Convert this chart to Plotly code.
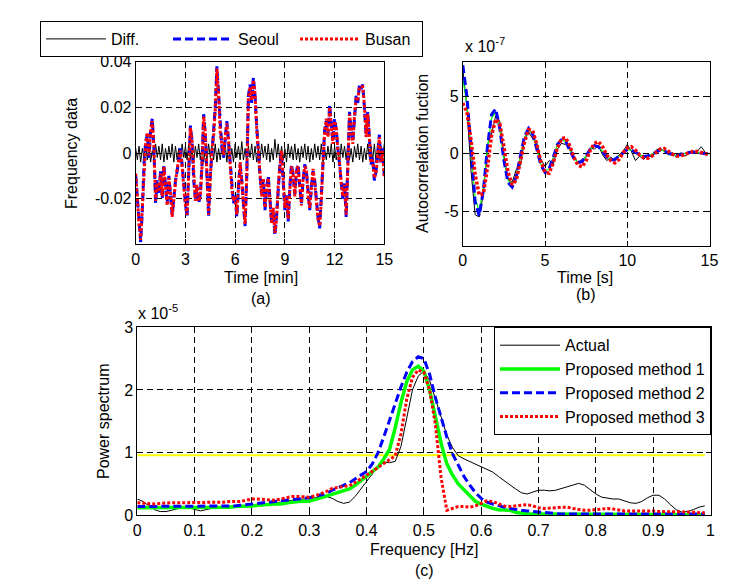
import numpy as np
import plotly.graph_objects as go

# ---------------- (a) frequency data, values in units of 1e-3 Hz ----------------
seoul_mhz = [-10, -20, -32, -39, -25, -5, 5, 8, -2, 10, 15, 2, -22, -12, -18, -8, -20, -5, -15, -22,
             -10, -18, -27, -20, -12, -8, -3, 2, -5, -15, -22, -28, -5, 12, 5, -12, -20, -15, -22, -18,
             -5, 17, 8, -10, -28, -10, 0, 8, 20, 38, 25, 10, 2, -2, 8, 14, 5, -5, -15, -22,
             -18, -28, -15, -5, -12, -22, -32, -10, 25, 30, 22, 33, 25, 12, 0, -10, -18, -12, -25, -15,
             -10, -22, -30, -25, -36, -28, -15, -5, 0, -12, -25, -18, -30, -15, -5, -10, -18, -8, -5, -15,
             -22, -12, -5, -8, -18, -25, -15, -8, -12, -22, -28, -33, -20, -5, 10, 14, 8, 21, 12, 5,
             15, 10, 2, -5, -12, -20, -13, -28, -5, 18, 10, 5, 15, 25, 22, 30, 28, 30, 20, 8,
             18, 5, -5, -2, -12, -8, 0, 8, -5, 2, -10]
busan_mhz = [-9, -21, -31, -38, -24, -6, 4, 9, -1, 9, 14, 3, -21, -13, -17, -9, -19, -6, -14, -23,
             -11, -17, -28, -19, -13, -7, -2, 1, -6, -14, -23, -27, -6, 11, 6, -11, -21, -14, -21, -19,
             -6, 16, 9, -9, -27, -11, 1, 7, 19, 37, 26, 9, 3, -1, 7, 13, 6, -4, -16, -21,
             -19, -27, -16, -4, -13, -21, -31, -11, 24, 29, 23, 32, 26, 11, 1, -9, -19, -11, -24, -16,
             -11, -21, -31, -24, -35, -29, -14, -6, 1, -11, -24, -19, -29, -16, -6, -9, -19, -7, -6, -14,
             -23, -11, -6, -7, -19, -24, -16, -7, -13, -21, -29, -32, -21, -4, 9, 15, 7, 20, 13, 4,
             14, 11, 1, -4, -13, -19, -14, -27, -6, 17, 11, 4, 16, 24, 23, 29, 29, 29, 21, 7,
             17, 6, -4, -3, -11, -9, 1, 7, -4, 1, -11]
diff_mhz = [2, -3, 3, -4, 2, -2, 4, -3, 3, -4, 1, -3, 4, -2, 3, -3, 4, -4, 2, -3,
            3, -2, 4, -4, 3, -3, 2, -4, 4, -2, 3, -3, 4, -3, 2, -4, 3, -2, 4, -3,
            3, -4, 2, -3, 4, -2, 3, -3, 4, -4, 2, -3, 3, -2, 4, -4, 3, -3, 2, -4,
            4, -2, 3, -3, 5, -3, 2, -4, 3, -2, 4, -3, 3, -4, 2, -3, 4, -2, 3, -3,
            4, -4, 2, -3, 6, -2, 4, -4, 3, -3, 2, -4, 4, -2, 3, -3, 4, -3, 2, -4,
            3, -2, 4, -3, 3, -4, 2, -3, 4, -2, 3, -3, 4, -4, 2, -3, 3, -2, 4, -4,
            3, -3, 2, -4, 4, -2, 3, -3, 4, -3, 2, -4, 3, -2, 4, -3, 3, -4, 2, -3,
            4, -2, 3, -3, 4, -4, 2, -3, 3, -2, 4]

# ---------------- (b) autocorrelation, units of 1e-7, lag step 0.25 s ----------------
acf_actual = [7.4, 4.0, -1.5, -5.3, -5.5, -3.5, 0.8, 1.7, 3.3, 2.8, -0.2, -2.2, -2.5, -1.4, -1.0, 1.2,
              1.9, 1.3, 0.9, -0.5, -1.1, -0.6, -0.9, 0.4, 0.9, 0.8, 0.6, -0.2, -0.8, -0.5, -0.3, 0.5,
              0.4, 0.7, -0.1, -0.6, -0.3, -0.6, -0.1, 0.2, 0.8, 0.2, -0.6, -0.2, -0.5, -0.1, -0.3, 0.3,
              0.5, 0.2, -0.1, 0.1, -0.3, 0.1, -0.2, 0.0, 0.1, 0.2, 0.6, 0.1, 0.0]
acf_m1 = [6.5, 4.3, 0.3, -3.9, -5.0, -3.0, 0.5, 3.1, 3.6, 2.1, -0.5, -2.3, -2.7, -1.9, -0.2, 1.4,
          2.1, 1.7, 0.4, -0.9, -1.5, -1.3, -0.3, 0.8, 1.2, 1.1, 0.35, -0.4, -0.75, -0.7, -0.2, 0.4,
          0.7, 0.65, 0.2, -0.3, -0.55, -0.5, -0.2, 0.15, 0.35, 0.3, 0.1, -0.1, -0.25, -0.2, -0.05, 0.15,
          0.3, 0.25, 0.05, -0.1, -0.15, -0.1, 0.0, 0.1, 0.15, 0.1, 0.05, 0.0, -0.05]
acf_m2 = [7.7, 5.0, 0.5, -4.2, -5.4, -3.2, 0.6, 3.4, 3.9, 2.2, -0.6, -2.5, -2.9, -2.0, -0.2, 1.5,
          2.2, 1.7, 0.4, -1.0, -1.6, -1.3, -0.3, 0.8, 1.2, 1.1, 0.3, -0.4, -0.75, -0.7, -0.2, 0.4,
          0.7, 0.6, 0.2, -0.3, -0.55, -0.5, -0.2, 0.1, 0.35, 0.3, 0.1, -0.1, -0.25, -0.2, -0.05, 0.15,
          0.3, 0.25, 0.05, -0.1, -0.15, -0.1, 0.0, 0.1, 0.15, 0.1, 0.05, 0.0, -0.05]
acf_m3 = [4.4, 3.6, 1.2, -1.8, -3.6, -3.5, -1.2, 1.6, 3.0, 2.6, 0.6, -1.6, -2.7, -2.3, -0.7, 1.0,
          2.1, 2.0, 0.8, -0.7, -1.6, -1.7, -0.8, 0.5, 1.3, 1.4, 0.7, -0.3, -1.0, -1.15, -0.6, 0.3,
          0.9, 1.05, 0.6, -0.1, -0.6, -0.8, -0.5, 0.1, 0.5, 0.6, 0.3, -0.1, -0.35, -0.4, -0.2, 0.15,
          0.4, 0.45, 0.2, -0.05, -0.2, -0.2, -0.05, 0.1, 0.2, 0.2, 0.1, 0.0, -0.1]

# ---------------- (c) power spectrum, units of 1e-5, f = 0.00 .. 0.99 Hz ----------------
ps_actual = [0.26, 0.22, 0.15, 0.09, 0.06, 0.06, 0.08, 0.11, 0.13, 0.12,
             0.09, 0.07, 0.09, 0.11, 0.13, 0.13, 0.13, 0.14, 0.14, 0.15,
             0.16, 0.16, 0.17, 0.18, 0.19, 0.20, 0.22, 0.24, 0.25, 0.26,
             0.27, 0.28, 0.30, 0.30, 0.27, 0.22, 0.19, 0.21, 0.30, 0.42,
             0.55, 0.66, 0.76, 0.85, 0.84, 0.86, 1.10, 1.55, 2.00, 2.22,
             2.30, 2.15, 1.85, 1.55, 1.28, 1.08, 0.95, 0.90, 0.86, 0.82,
             0.78, 0.74, 0.69, 0.62, 0.55, 0.48, 0.42, 0.36, 0.34, 0.37,
             0.40, 0.40, 0.39, 0.40, 0.43, 0.46, 0.49, 0.51, 0.48, 0.41,
             0.34, 0.29, 0.27, 0.26, 0.26, 0.23, 0.20, 0.19, 0.22, 0.28,
             0.32, 0.32, 0.26, 0.17, 0.09, 0.05, 0.06, 0.09, 0.13, 0.15]
ps_m1 = [0.12, 0.12, 0.12, 0.12, 0.12, 0.12, 0.12, 0.12, 0.12, 0.12,
         0.12, 0.12, 0.12, 0.12, 0.13, 0.13, 0.13, 0.14, 0.14, 0.15,
         0.15, 0.16, 0.17, 0.17, 0.18, 0.18, 0.20, 0.21, 0.22, 0.22,
         0.23, 0.25, 0.28, 0.31, 0.34, 0.37, 0.39, 0.42, 0.48, 0.55,
         0.62, 0.70, 0.77, 0.90, 1.05, 1.40, 1.80, 2.13, 2.32, 2.38,
         2.30, 2.00, 1.60, 1.15, 0.82, 0.64, 0.50, 0.40, 0.30, 0.22,
         0.18, 0.14, 0.11, 0.09, 0.09, 0.08, 0.05, 0.03, 0.02, 0.02,
         0.02, 0.01, 0.01, 0.01, 0.01, 0.01, 0.01, 0.01, 0.01, 0.01,
         0.01, 0.01, 0.01, 0.01, 0.01, 0.01, 0.01, 0.01, 0.01, 0.01,
         0.01, 0.01, 0.01, 0.01, 0.01, 0.01, 0.01, 0.01, 0.01, 0.01]
ps_m2 = [0.14, 0.14, 0.14, 0.14, 0.14, 0.14, 0.14, 0.14, 0.14, 0.14,
         0.14, 0.14, 0.14, 0.14, 0.15, 0.15, 0.15, 0.15, 0.16, 0.17,
         0.18, 0.18, 0.19, 0.20, 0.21, 0.22, 0.23, 0.25, 0.26, 0.27,
         0.28, 0.30, 0.32, 0.35, 0.40, 0.44, 0.47, 0.52, 0.58, 0.64,
         0.70, 0.82, 1.00, 1.25, 1.50, 1.78, 2.05, 2.28, 2.45, 2.53,
         2.50, 2.25, 1.88, 1.55, 1.25, 0.98, 0.80, 0.62, 0.48, 0.36,
         0.27, 0.21, 0.18, 0.15, 0.13, 0.11, 0.09, 0.08, 0.07, 0.06,
         0.05, 0.04, 0.03, 0.03, 0.02, 0.02, 0.02, 0.02, 0.02, 0.02,
         0.02, 0.02, 0.02, 0.02, 0.02, 0.02, 0.02, 0.02, 0.02, 0.02,
         0.02, 0.02, 0.02, 0.02, 0.02, 0.02, 0.02, 0.02, 0.02, 0.02]
ps_m3 = [0.20, 0.19, 0.18, 0.18, 0.19, 0.20, 0.20, 0.20, 0.20, 0.20,
         0.20, 0.20, 0.21, 0.21, 0.21, 0.21, 0.22, 0.22, 0.22, 0.24,
         0.26, 0.26, 0.25, 0.24, 0.24, 0.26, 0.28, 0.30, 0.30, 0.29,
         0.29, 0.31, 0.34, 0.38, 0.43, 0.45, 0.46, 0.47, 0.52, 0.58,
         0.64, 0.70, 0.76, 0.82, 0.88, 0.95, 1.30, 1.85, 2.20, 2.32,
         2.28, 2.00, 1.45, 0.60, 0.08, 0.11, 0.14, 0.14, 0.13, 0.15,
         0.19, 0.23, 0.22, 0.18, 0.15, 0.14, 0.15, 0.17, 0.17, 0.15,
         0.12, 0.11, 0.11, 0.12, 0.13, 0.13, 0.11, 0.09, 0.08, 0.08,
         0.09, 0.11, 0.11, 0.10, 0.08, 0.07, 0.07, 0.07, 0.08, 0.08,
         0.07, 0.06, 0.06, 0.05, 0.05, 0.06, 0.06, 0.05, 0.04, 0.04]
ref_level_x = [0.0, 0.99]
ref_level_y = [0.96, 0.96]

# tick labels
a_xticks = [0, 3, 6, 9, 12, 15]
a_yticks = [-0.02, 0, 0.02, 0.04]
a_yticktext = ["-0.02", "0", "0.02", "0.04"]
b_xticks = [0, 5, 10, 15]
b_yticks = [-5, 0, 5]
b_yticktext = ["-5", "0", "5"]
c_xticks = [0, 0.1, 0.2, 0.3, 0.4, 0.5, 0.6, 0.7, 0.8, 0.9, 1]
c_xticktext = ["0", "0.1", "0.2", "0.3", "0.4", "0.5", "0.6", "0.7", "0.8", "0.9", "1"]
c_yticks = [0, 1, 2, 3]

# ---------------- derived axes ----------------
seoul = np.array(seoul_mhz) * 1e-3
busan = np.array(busan_mhz) * 1e-3
diff = np.array(diff_mhz) * 1e-3
t_seoul = np.linspace(0, 15, len(seoul))
t_busan = np.linspace(0, 15, len(busan))
t_diff = np.linspace(0, 15, len(diff))
lag = np.arange(len(acf_m2)) * 0.25
freq = np.arange(len(ps_actual)) * 0.01

W, H = 754, 585
FONT = "Liberation Sans, Arial, sans-serif"
FS = 16

def px(x):
    return x / W

def py(y):
    return 1 - y / H

BLUE = "#0000ff"
RED = "#ff0000"
GREEN = "#00ff00"
DASH = "8px,4px"
DOT = "3px,2px"
GRID = "6px,4px"

fig = go.Figure()

# (a)
fig.add_trace(go.Scatter(x=t_diff, y=diff, mode="lines", name="Diff.",
                         line=dict(color="black", width=1), xaxis="x", yaxis="y", legend="legend"))
fig.add_trace(go.Scatter(x=t_seoul, y=seoul, mode="lines", name="Seoul",
                         line=dict(color=BLUE, width=3, dash=DASH), xaxis="x", yaxis="y", legend="legend"))
fig.add_trace(go.Scatter(x=t_busan, y=busan, mode="lines", name="Busan",
                         line=dict(color=RED, width=3, dash=DOT), xaxis="x", yaxis="y", legend="legend"))

# (b)
fig.add_trace(go.Scatter(x=lag, y=acf_actual, mode="lines", showlegend=False,
                         line=dict(color="black", width=1), xaxis="x2", yaxis="y2"))
fig.add_trace(go.Scatter(x=lag, y=acf_m1, mode="lines", showlegend=False,
                         line=dict(color=GREEN, width=1.2), xaxis="x2", yaxis="y2"))
fig.add_trace(go.Scatter(x=lag, y=acf_m2, mode="lines", showlegend=False,
                         line=dict(color=BLUE, width=3, dash=DASH), xaxis="x2", yaxis="y2"))
fig.add_trace(go.Scatter(x=lag, y=acf_m3, mode="lines", showlegend=False,
                         line=dict(color=RED, width=3.5, dash=DOT), xaxis="x2", yaxis="y2"))

# (c)
fig.add_trace(go.Scatter(x=ref_level_x, y=ref_level_y, mode="lines", showlegend=False,
                         line=dict(color="#ffff00", width=2), xaxis="x3", yaxis="y3"))
fig.add_trace(go.Scatter(x=freq, y=ps_actual, mode="lines", name="Actual",
                         line=dict(color="black", width=1), xaxis="x3", yaxis="y3", legend="legend2"))
fig.add_trace(go.Scatter(x=freq, y=ps_m1, mode="lines", name="Proposed method 1",
                         line=dict(color=GREEN, width=3.5), xaxis="x3", yaxis="y3", legend="legend2"))
fig.add_trace(go.Scatter(x=freq, y=ps_m2, mode="lines", name="Proposed method 2",
                         line=dict(color=BLUE, width=3, dash=DASH), xaxis="x3", yaxis="y3", legend="legend2"))
fig.add_trace(go.Scatter(x=freq, y=ps_m3, mode="lines", name="Proposed method 3",
                         line=dict(color=RED, width=3, dash=DOT), xaxis="x3", yaxis="y3", legend="legend2"))

def ax(domain, rng, tickvals, ticktext=None, anchor=None):
    d = dict(domain=domain, range=rng, tickvals=tickvals, showline=True, linecolor="black",
             linewidth=1, mirror="ticks", ticks="inside", ticklen=5, tickcolor="black",
             showgrid=True, gridcolor="black", gridwidth=1, griddash=GRID, zeroline=False,
             tickfont=dict(family=FONT, size=FS, color="black"), anchor=anchor, fixedrange=True)
    if ticktext is not None:
        d["ticktext"] = ticktext
    return d

fig.update_layout(
    width=W, height=H, margin=dict(l=0, r=0, t=0, b=0, autoexpand=False),
    paper_bgcolor="white", plot_bgcolor="white",
    font=dict(family=FONT, size=FS, color="black"),
    xaxis=ax([px(135.7), px(384.3)], [0, 15], a_xticks, anchor="y"),
    yaxis=ax([py(244.3), py(61.7)], [-0.04, 0.04], a_yticks, a_yticktext, anchor="x"),
    xaxis2=ax([px(462.8), px(709.5)], [0, 15], b_xticks, anchor="y2"),
    yaxis2=ax([py(245.7), py(61.7)], [-8, 8], b_yticks, b_yticktext, anchor="x2"),
    xaxis3=ax([px(137.3), px(710.5)], [0, 1], c_xticks, c_xticktext, anchor="y3"),
    yaxis3=ax([py(515.3), py(327.3)], [0, 3], c_yticks, anchor="x3"),
    legend=dict(orientation="h", x=px(40), y=py(21), xanchor="left", yanchor="top",
                bordercolor="black", borderwidth=1, bgcolor="white",
                font=dict(family=FONT, size=FS), entrywidth=52, entrywidthmode="pixels",
                itemwidth=60),
    legend2=dict(x=px(711), y=py(327.3), xanchor="right", yanchor="top",
                 bordercolor="black", borderwidth=1, bgcolor="white",
                 font=dict(family=FONT, size=FS), itemwidth=60, tracegroupgap=0),
)

def note(x, y, text, angle=0, size=FS):
    fig.add_annotation(x=px(x), y=py(y), xref="paper", yref="paper", text=text, showarrow=False,
                       textangle=angle, xanchor="center", yanchor="middle",
                       font=dict(family=FONT, size=size, color="black"))

note(261, 277, "Time [min]")
note(261, 298, "(a)")
note(72, 154, "Frequency data", angle=-90)
note(585, 277, "Time [s]")
note(586, 294, "(b)")
note(423, 154, "Autocorrelation fuction", angle=-90)
note(485, 45, "x 10<sup>-7</sup>")
note(424, 549, "Frequency [Hz]")
note(424, 570, "(c)")
note(103, 421, "Power spectrum", angle=-90)
note(158, 312, "x 10<sup>-5</sup>")

fig.write_html("out.html", config={"displayModeBar": False},
               post_script="document.body.style.margin='0px';document.body.style.overflow='hidden';")
